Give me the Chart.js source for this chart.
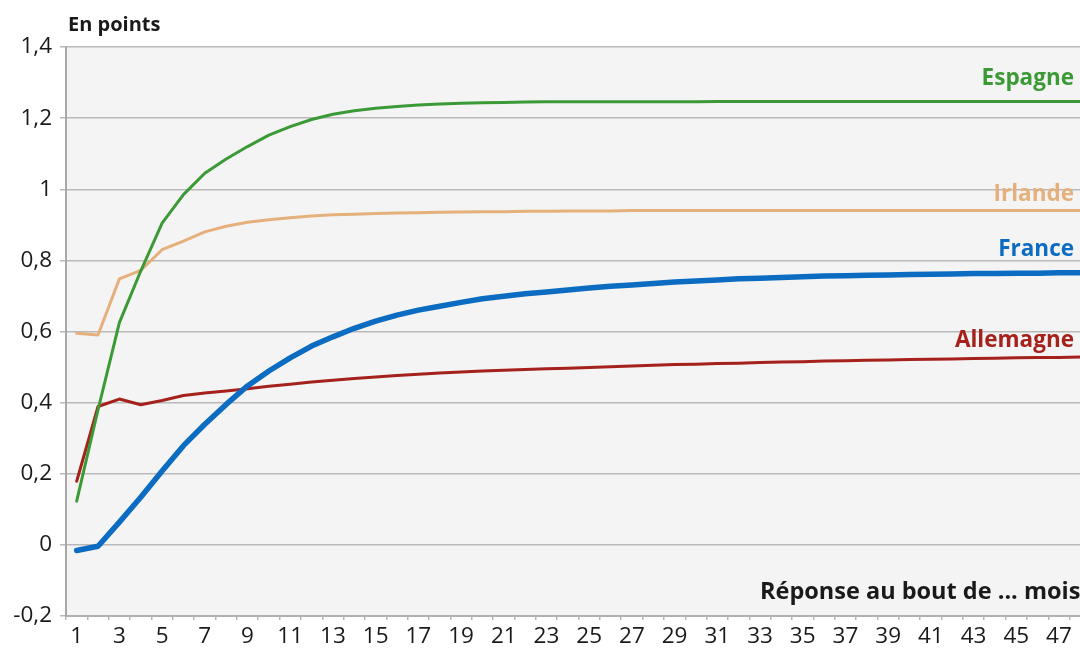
<!DOCTYPE html>
<html lang="fr">
<head>
<meta charset="utf-8">
<title>Réponse au bout de ... mois</title>
<script src="https://cdn.jsdelivr.net/npm/chart.js@4/dist/chart.umd.min.js"></script>
<style>
  html, body { margin: 0; padding: 0; background: #fff; overflow: hidden; }
  #wrap { width: 1080px; height: 648px; overflow: hidden; position: relative; }
  canvas { display: block; }
</style>
</head>
<body>
<div id="wrap"><canvas id="reponse" width="1092" height="648"></canvas></div>
<script>
// Données
const mois = [1, 2, 3, 4, 5, 6, 7, 8, 9, 10, 11, 12, 13, 14, 15, 16, 17, 18, 19, 20, 21, 22, 23, 24,
              25, 26, 27, 28, 29, 30, 31, 32, 33, 34, 35, 36, 37, 38, 39, 40, 41, 42, 43, 44, 45, 46, 47, 48];

const espagne = [0.123, 0.38, 0.625, 0.77, 0.905, 0.985, 1.045, 1.085, 1.12, 1.152,
                 1.176, 1.196, 1.211, 1.221, 1.228, 1.233, 1.237, 1.24, 1.242, 1.243,
                 1.244, 1.245, 1.246, 1.246, 1.246, 1.246, 1.246, 1.246, 1.246, 1.246,
                 1.247, 1.247, 1.247, 1.247, 1.247, 1.247, 1.247, 1.247, 1.247, 1.247,
                 1.247, 1.247, 1.247, 1.247, 1.247, 1.247, 1.247, 1.247];

const irlande = [0.595, 0.59, 0.748, 0.772, 0.83, 0.854, 0.88, 0.896, 0.907, 0.914,
                 0.92, 0.925, 0.928, 0.93, 0.932, 0.933, 0.934, 0.935, 0.936, 0.937,
                 0.937, 0.938, 0.938, 0.939, 0.939, 0.939, 0.94, 0.94, 0.94, 0.94,
                 0.94, 0.94, 0.94, 0.94, 0.94, 0.94, 0.94, 0.94, 0.94, 0.94,
                 0.94, 0.94, 0.94, 0.94, 0.94, 0.94, 0.94, 0.94];

const france = [-0.016, -0.004, 0.064, 0.134, 0.208, 0.279, 0.339, 0.395, 0.447, 0.489,
                0.526, 0.559, 0.585, 0.609, 0.629, 0.646, 0.66, 0.671, 0.682, 0.692,
                0.699, 0.706, 0.711, 0.717, 0.722, 0.727, 0.731, 0.735, 0.739, 0.742,
                0.745, 0.748, 0.75, 0.752, 0.754, 0.756, 0.757, 0.758, 0.759, 0.76,
                0.761, 0.762, 0.763, 0.763, 0.764, 0.764, 0.765, 0.765];

const allemagne = [0.179, 0.389, 0.41, 0.394, 0.406, 0.42, 0.427, 0.433, 0.439, 0.446,
                   0.452, 0.458, 0.463, 0.468, 0.472, 0.476, 0.48, 0.483, 0.486, 0.489,
                   0.491, 0.493, 0.495, 0.497, 0.499, 0.501, 0.503, 0.505, 0.507, 0.508,
                   0.51, 0.511, 0.513, 0.514, 0.515, 0.517, 0.518, 0.519, 0.52, 0.521,
                   0.522, 0.523, 0.524, 0.525, 0.526, 0.527, 0.527, 0.528];

const ticksY = ["-0,2", "0", "0,2", "0,4", "0,6", "0,8", "1", "1,2", "1,4"];

const police = "'Open Sans', Lato, 'DejaVu Sans', sans-serif";

// fond gris de la zone de tracé + textes
const habillage = {
    id: "habillage",
    beforeDraw(chart) {
        const { ctx, chartArea: a } = chart;
        ctx.save();
        ctx.fillStyle = "#f4f4f4";
        ctx.fillRect(a.left, a.top, a.right - a.left, a.bottom - a.top);
        ctx.restore();
    },
    afterDatasetsDraw(chart) {
        const { ctx, chartArea: a } = chart;
        const y = chart.scales.y;
        ctx.save();
        ctx.fillStyle = "#1a1a1a";
        ctx.font = "bold 20px " + police;
        ctx.textBaseline = "middle";
        ctx.textAlign = "left";
        ctx.fillText("En points", a.left + 2, 25);
        ctx.font = "bold 23.5px " + police;
        ctx.fillText("Réponse au bout de ... mois", 760, 592);

        // noms des pays au bout des courbes
        const lift = { Espagne: 23, Irlande: 16, France: 23, Allemagne: 17 };
        ctx.textAlign = "right";
        ctx.font = "bold 22.5px " + police;
        chart.data.datasets.forEach(ds => {
            const last = ds.data[ds.data.length - 1];
            ctx.fillStyle = ds.borderColor;
            ctx.fillText(ds.label, 1074, y.getPixelForValue(last) - lift[ds.label]);
        });
        ctx.restore();
    }
};

new Chart(document.getElementById("reponse"), {
    type: "line",
    data: {
        labels: mois,
        datasets: [
        {
            label: "Irlande",
            data: irlande,
            borderColor: "#e6b07c",
            borderWidth: 3,
            order: 4,
        },
        {
            label: "Allemagne",
            data: allemagne,
            borderColor: "#a5221c",
            borderWidth: 3,
            order: 3,
        },
        {
            label: "France",
            data: france,
            borderColor: "#0b6cc2",
            borderWidth: 5.5,
            order: 2,
        },
        {
            label: "Espagne",
            data: espagne,
            borderColor: "#3c9a36",
            borderWidth: 3,
            order: 1,
        },
        ],
    },
    options: {
        responsive: false,
        animation: false,
        events: [],
        layout: { padding: { top: 47, right: 1, left: 0, bottom: 0 } },
        elements: {
            point: { radius: 0 },
            line: { tension: 0, borderCapStyle: "round", borderJoinStyle: "round" },
        },
        scales: {
            x: {
                type: "category",
                offset: true,
                afterFit(scale) { scale.height = 32; },
                grid: {
                    offset: true,
                    drawOnChartArea: false,
                    drawTicks: true,
                    tickLength: 4,
                    color: "#b5b5b5",
                    lineWidth: 1.5,
                },
                border: { color: "#b0b0b0", width: 2 },
                ticks: {
                    autoSkip: false,
                    maxRotation: 0,
                    padding: 3,
                    color: "#1a1a1a",
                    font: { family: police, size: 22.5 },
                    callback: (v, i) => (i % 2 === 0 ? mois[i] : ""),
                },
            },
            y: {
                min: -0.2,
                max: 1.4,
                afterFit(scale) { scale.width = 66; },
                afterBuildTicks(scale) {
                    scale.ticks = ticksY.map((t, i) => ({ value: Math.round((-0.2 + 0.2 * i) * 10) / 10 }));
                },
                grid: {
                    color: "#b9b9b9",
                    lineWidth: 1.5,
                    tickLength: 6,
                },
                border: { color: "#a8a8a8", width: 2 },
                ticks: {
                    padding: 8,
                    color: "#1a1a1a",
                    font: { family: police, size: 22.5 },
                    callback: (v, i) => ticksY[i],
                },
            },
        },
        plugins: {
            legend: { display: false },
            tooltip: { enabled: false },
            title: { display: false },
        },
    },
    plugins: [habillage],
});
</script>
</body>
</html>
